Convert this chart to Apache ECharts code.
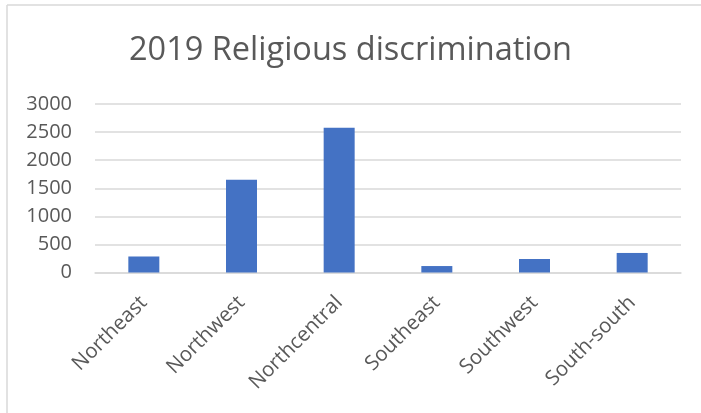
<!DOCTYPE html>
<html>
<head>
<meta charset="utf-8">
<script src="https://cdn.jsdelivr.net/npm/echarts@6/dist/echarts.min.js"></script>
<style>html,body{margin:0;padding:0;background:#fff;}#c{width:701px;height:413px;}</style>
</head>
<body>
<div id="c"></div>
<script>
const titleText = "2019 Religious discrimination";
const categories = ["Northeast", "Northwest", "Northcentral", "Southeast", "Southwest", "South-south"];
const values = [285, 1650, 2575, 115, 240, 348];
const yTicks = [0, 500, 1000, 1500, 2000, 2500, 3000];

const chart = echarts.init(document.getElementById('c'), null, {renderer: 'canvas'});
chart.setOption({
  animation: false,
  backgroundColor: '#ffffff',
  title: {
    text: titleText,
    left: 'center',
    top: 29,
    textStyle: {fontFamily: 'Open Sans', fontSize: 32.5, fontWeight: 'normal', color: '#595959'}
  },
  graphic: [
    {type: 'line', shape: {x1: 7, y1: 5, x2: 701, y2: 5}, style: {stroke: '#d9d9d9', lineWidth: 1.5}},
    {type: 'line', shape: {x1: 7, y1: 5, x2: 7, y2: 413}, style: {stroke: '#d9d9d9', lineWidth: 1.5}}
  ],
  grid: {left: 95, right: 20, top: 104, bottom: 140.5, containLabel: false},
  xAxis: {
    type: 'category',
    data: categories,
    axisTick: {show: false},
    axisLine: {show: true, lineStyle: {color: '#d9d9d9', width: 1.5}},
    axisLabel: {
      rotate: 45, interval: 0, margin: 27,
      fontFamily: 'Open Sans', fontSize: 20.5, color: '#595959'
    }
  },
  yAxis: {
    type: 'value',
    min: 0, max: 3000, interval: 500,
    axisLine: {show: false},
    axisTick: {show: false},
    splitLine: {lineStyle: {color: '#d9d9d9', width: 1.5}},
    axisLabel: {
      margin: 23,
      fontFamily: 'Open Sans', fontSize: 20, color: '#595959',
      formatter: v => yTicks.includes(v) ? String(v) : ''
    }
  },
  series: [{
    type: 'bar',
    data: values,
    barWidth: 31,
    itemStyle: {color: '#4472c4'}
  }]
});
</script>
</body>
</html>
